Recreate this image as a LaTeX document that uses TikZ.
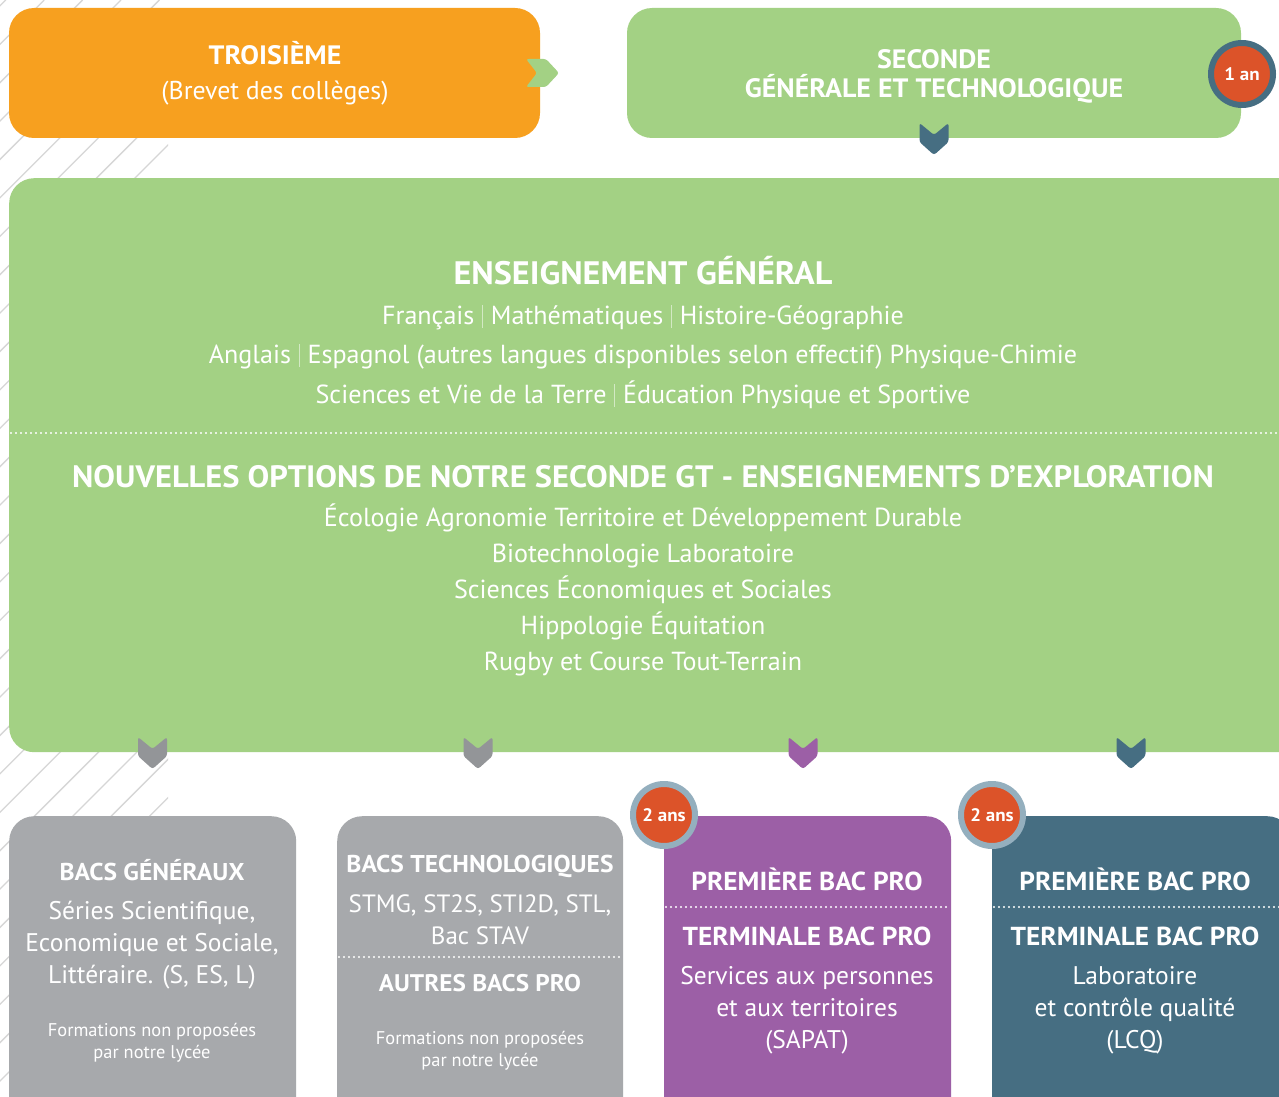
\documentclass[tikz,border=0pt]{standalone}
\usepackage{fontspec}
\setmainfont{PT Sans}[BoldFeatures={FakeStretch=1.05}]
\definecolor{orangebox}{HTML}{F7A01F}
\definecolor{greenbox}{HTML}{A3D184}
\definecolor{bluebox}{HTML}{466E82}
\definecolor{purplebox}{HTML}{9C5FA6}
\definecolor{graybox}{HTML}{A7A9AC}
\definecolor{graychev}{HTML}{939598}
\definecolor{badgered}{HTML}{DC5329}
\definecolor{ringlight}{HTML}{94AFBE}
\definecolor{hatchc}{HTML}{D6D6D6}
\definecolor{sepc}{HTML}{D3E9C4}
\newcommand\sepbar{\hspace{0.3em}\textcolor{sepc}{\rule[-4pt]{0.9pt}{23pt}}\hspace{0.3em}}
\newcommand\fsz[1]{\fontsize{#1}{#1}\selectfont}
\tikzset{
  panel/.style={draw=none, rounded corners=25pt, inner sep=0pt},
  txt/.style={text=white, inner sep=0pt, anchor=base},
  hd/.style={txt, font=\bfseries\fsz{24.3}},
  hdpro/.style={txt, font=\bfseries\fsz{26}},
  top/.style={txt, font=\bfseries\fsz{26.6}},
  bd/.style={txt, font=\fsz{25.5}},
  bdbig/.style={txt, font=\fsz{26.1}},
  sm/.style={txt, font=\fsz{18.4}},
  dotline/.style={white, line width=2.2pt, line cap=round, dash pattern=on 0pt off 5pt},
  hatch/.style={hatchc, line width=1.3pt},
  chevd/.pic={\path[pic actions, rounded corners=2.5pt] (-14.5,0) -- (0,12) -- (14.5,0) -- (14.5,19) -- (0,32) -- (-14.5,19) -- cycle;},
  chevr/.pic={\path[pic actions, rounded corners=2.5pt] (0,0) -- (11,14) -- (0,28) -- (20,28) -- (33,14) -- (20,0) -- cycle;},
  badge/.style={circle, inner sep=0pt, minimum size=62pt, fill=badgered, line width=6pt, text=white, font=\bfseries\fsz{18.1}}
}
\begin{document}
\begin{tikzpicture}[x=1pt,y=-1pt]
\useasboundingbox (0,0) rectangle (1279,1097);
\clip (0,0) rectangle (1279,1097);
\fill[white] (0,0) rectangle (1279,1097);
% hatching
\begin{scope}
\clip (0,0) rectangle (168,1097);
\foreach \k in {-8,...,25} \draw[hatch] ({313+\k*38.4},0) -- ({313+\k*38.4-1100},1100);
\end{scope}
% top boxes
\node[panel, fill=orangebox, minimum width=531pt, minimum height=130pt] (troisieme) at (274.5,73) {};
\node[panel, fill=greenbox, minimum width=614pt, minimum height=130pt] (seconde) at (934,73) {};
\node[top] (t3a) at (275,65) {TROISIÈME};
\node[txt, font=\fsz{25.8}] (t3b) at (275,100) {(Brevet des collèges)};
\node[top] (t2a) at (934,69) {SECONDE};
\node[top] (t2b) at (934,98) {GÉNÉRALE ET TECHNOLOGIQUE};
\pic[fill=greenbox] at (526,59) {chevr};
\node[badge, draw=bluebox] (onean) at (1242,74) {1 an};
% big box
\node[panel, fill=greenbox, minimum width=1300pt, minimum height=574pt, anchor=north west] (big) at (9,178) {};
\pic[fill=bluebox] at (934,123) {chevd};
\node[txt, font=\bfseries\fsz{32.5}] (eg) at (643,284) {ENSEIGNEMENT GÉNÉRAL};
\node[bdbig] (eg1) at (643,324) {Français\sepbar Mathématiques\sepbar Histoire-Géographie};
\node[bdbig] (eg2) at (643,363) {Anglais\sepbar Espagnol (autres langues disponibles selon effectif) Physique-Chimie};
\node[bdbig] (eg3) at (643,403) {Sciences et Vie de la Terre\sepbar Éducation Physique et Sportive};
\draw[dotline] (11,433) -- (1279,433);
\node[txt, font=\bfseries\fsz{30.9}] (no) at (643,487) {NOUVELLES OPTIONS DE NOTRE SECONDE GT - ENSEIGNEMENTS D’EXPLORATION};
\node[bdbig] (no1) at (643,526) {Écologie Agronomie Territoire et Développement Durable};
\node[bdbig] (no2) at (643,562) {Biotechnologie Laboratoire};
\node[bdbig] (no3) at (643,598) {Sciences Économiques et Sociales};
\node[bdbig] (no4) at (643,634) {Hippologie Équitation};
\node[bdbig] (no5) at (643,670) {Rugby et Course Tout-Terrain};
% bottom boxes
\node[panel, fill=graybox, minimum width=287pt, minimum height=320pt, anchor=north west] (bg) at (9,816) {};
\node[panel, fill=graybox, minimum width=286pt, minimum height=320pt, anchor=north west] (bt) at (337,816) {};
\node[panel, fill=purplebox, minimum width=287pt, minimum height=320pt, anchor=north west] (bp) at (664,816) {};
\node[panel, fill=bluebox, minimum width=300pt, minimum height=320pt, anchor=north west] (bl) at (992,816) {};
\pic[fill=graychev] at (152.5,737) {chevd};
\pic[fill=graychev] at (478,737) {chevd};
\pic[fill=purplebox] at (803,737) {chevd};
\pic[fill=bluebox] at (1131,737) {chevd};
% box 1
\node[hd] (bg1) at (152,880) {BACS GÉNÉRAUX};
\node[bd] (bg2) at (152,919) {Séries Scientifique,};
\node[bd] (bg3) at (152,951) {Economique et Sociale,};
\node[bd] (bg4) at (152,983) {Littéraire. (S, ES, L)};
\node[sm] (bg5) at (152,1036) {Formations non proposées};
\node[sm] (bg6) at (152,1058) {par notre lycée};
% box 2
\node[hd] (bt1) at (480,872) {BACS TECHNOLOGIQUES};
\node[txt, font=\fsz{25}] (bt2) at (480,912) {STMG, ST2S, STI2D, STL,};
\node[txt, font=\fsz{25}] (bt3) at (480,944) {Bac STAV};
\draw[dotline] (339,957) -- (622,957);
\node[hd, font=\bfseries\fsz{24}] (bt4) at (480,991) {AUTRES BACS PRO};
\node[sm] (bt5) at (480,1044) {Formations non proposées};
\node[sm] (bt6) at (480,1066) {par notre lycée};
% box 3
\node[hdpro] (bp1) at (807,890) {PREMIÈRE BAC PRO};
\draw[dotline] (666,907) -- (950,907);
\node[hdpro] (bp2) at (807,945) {TERMINALE BAC PRO};
\node[bd] (bp3) at (807,984) {Services aux personnes};
\node[bd] (bp4) at (807,1016) {et aux territoires};
\node[bd] (bp5) at (807,1048) {(SAPAT)};
% box 4
\node[hdpro] (bl1) at (1135,890) {PREMIÈRE BAC PRO};
\draw[dotline] (994,907) -- (1279,907);
\node[hdpro] (bl2) at (1135,945) {TERMINALE BAC PRO};
\node[bd] (bl3) at (1135,984) {Laboratoire};
\node[bd] (bl4) at (1135,1016) {et contrôle qualité};
\node[bd] (bl5) at (1135,1048) {(LCQ)};
% badges
\node[badge, draw=ringlight] (twoa) at (664,815) {2 ans};
\node[badge, draw=ringlight] (twob) at (992,815) {2 ans};
\end{tikzpicture}
\end{document}
